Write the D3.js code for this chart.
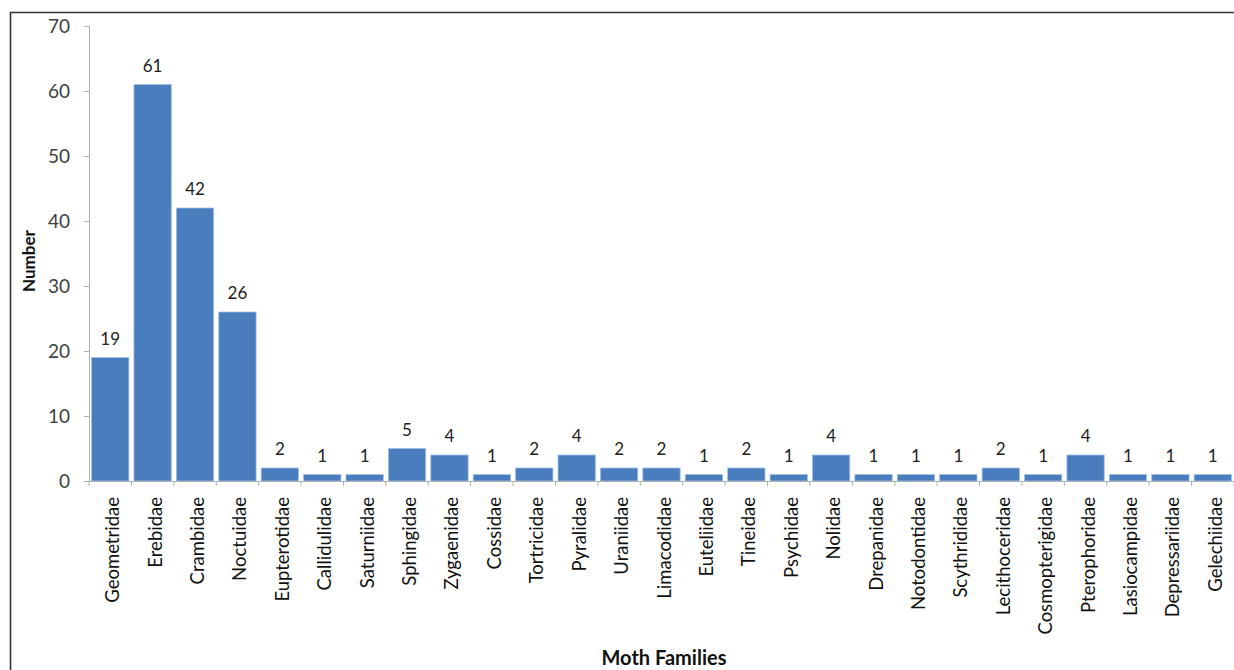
<!DOCTYPE html>
<html><head><meta charset="utf-8">
<script src="https://cdn.jsdelivr.net/npm/d3@7"></script>
<style>
html,body{margin:0;padding:0;background:#fff;}
svg{display:block;}
text{font-family:Lato,"Open Sans",sans-serif;}
</style></head>
<body><svg id="chart" width="1234" height="670"></svg>
<script>
const families = ["Geometridae","Erebidae","Crambidae","Noctuidae","Eupterotidae","Callidulidae","Saturniidae","Sphingidae","Zygaenidae","Cossidae","Tortricidae","Pyralidae","Uraniidae","Limacodidae","Euteliidae","Tineidae","Psychidae","Nolidae","Drepanidae","Notodontidae","Scythrididae","Lecithoceridae","Cosmopterigidae","Pterophoridae","Lasiocampidae","Depressariidae","Gelechiidae"];
const counts = [19,61,42,26,2,1,1,5,4,1,2,4,2,2,1,2,1,4,1,1,1,2,1,4,1,1,1];
const yTicks = [0,10,20,30,40,50,60,70];

const svg = d3.select("#chart");
const mLeft = 89, mRight = 1234, mTop = 26, mBottom = 481;

// frame
svg.append("path").attr("d","M10.5,680 V12.5 H1240").attr("fill","none").attr("stroke","#333").attr("stroke-width",1.6);

const x = d3.scaleBand().domain(families).range([mLeft,mRight]).paddingInner(0.12).paddingOuter(0.06);
const y = d3.scaleLinear().domain([0,70]).range([mBottom,mTop]);

// y axis
const ya = svg.append("g").attr("transform",`translate(${mLeft},0)`)
  .call(d3.axisLeft(y).tickValues(yTicks).tickSize(5).tickPadding(14));
ya.select(".domain").attr("stroke","#b0b0b0");
ya.selectAll(".tick line").attr("stroke","#b0b0b0");
ya.selectAll(".tick text").attr("font-size",19).attr("fill","#404040").attr("font-family","Lato, sans-serif");

// bars
svg.append("g").selectAll("rect").data(families).join("rect")
  .attr("x",d=>x(d)).attr("width",x.bandwidth())
  .attr("y",(d,i)=>y(counts[i])).attr("height",(d,i)=>mBottom-y(counts[i]))
  .attr("fill","#4a7dbd").attr("stroke","#9fc0e6").attr("stroke-width",0.8);

// x axis
const xa = svg.append("g").attr("transform",`translate(0,${mBottom})`)
  .call(d3.axisBottom(x).tickSize(0).tickFormat(""));
xa.select(".domain").attr("stroke","#b0b0b0");
const step = x.step();
svg.append("g").selectAll("line").data(d3.range(families.length+1)).join("line")
  .attr("x1",i=>mLeft+i*step).attr("x2",i=>mLeft+i*step)
  .attr("y1",mBottom).attr("y2",mBottom+5).attr("stroke","#b0b0b0");

// x labels rotated
svg.append("g").selectAll("text").data(families).join("text")
  .attr("transform",d=>`translate(${x(d)+x.bandwidth()/2+9},${mBottom+16}) rotate(-90)`)
  .attr("text-anchor","end").attr("font-size",18.5).attr("fill","#111")
  .text(d=>d);

// value labels
svg.append("g").selectAll("text").data(families).join("text")
  .attr("x",d=>x(d)+x.bandwidth()/2).attr("y",(d,i)=>y(counts[i])-13)
  .attr("text-anchor","middle").attr("font-size",17).attr("fill","#222")
  .text((d,i)=>counts[i]);

// titles
svg.append("text").attr("transform","translate(35,261) rotate(-90)").attr("text-anchor","middle")
  .attr("font-size",17).attr("font-weight","bold").attr("fill","#111").text("Number");
svg.append("text").attr("x",664).attr("y",665).attr("text-anchor","middle")
  .attr("font-size",20).attr("font-weight","bold").attr("fill","#111").text("Moth Families");
</script></body></html>
